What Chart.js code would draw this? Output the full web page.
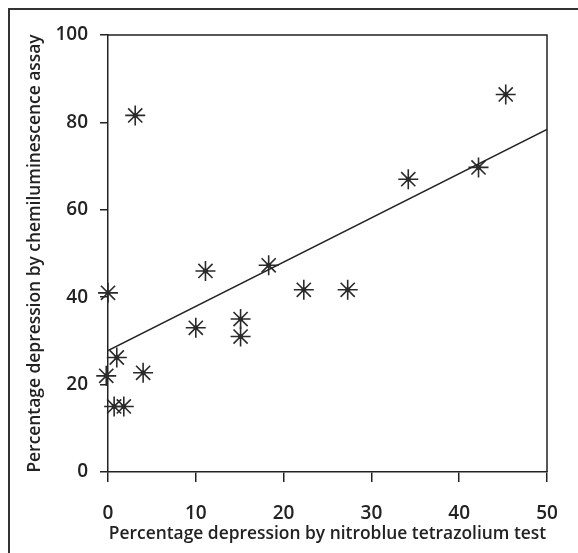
<!DOCTYPE html>
<html lang="en">
<head>
  <meta charset="UTF-8">
  <title>Chemiluminescence vs nitroblue tetrazolium</title>
  <script src="https://cdn.jsdelivr.net/npm/chart.js"></script>
  <style>
    html, body { margin: 0; padding: 0; background: #fff; }
    .wrap {
      position: relative;
      width: 578px;
      height: 553px;
      overflow: hidden;
    }
    .frame {
      position: absolute;
      left: 8px;
      top: 8px;
      width: 600px;
      height: 600px;
      border-left: 2px solid #333;
      border-top: 2px solid #333;
    }
    canvas { position: absolute; left: 0; top: 0; }
  </style>
</head>
<body>
  <div class="wrap">
    <div class="frame"></div>
    <canvas id="chart" width="578" height="553"></canvas>
  </div>

  <script>
    // values
    const nbtDepression = [0, -0.2, 1, 0.7, 1.8, 4, 3.1, 10, 11.1, 15.1, 15.1, 18.3, 22.3, 27.3, 34.2, 42.2, 45.3];
    const clDepression  = [41, 22, 26.2, 15, 15, 22.7, 81.6, 33, 46, 35, 31, 47.3, 41.7, 41.7, 67, 69.7, 86.4];
    const fitX = [0, 50];
    const fitY = [27.8, 78.4];

    const xTicks = [0, 10, 20, 30, 40, 50];
    const yTicks = [0, 20, 40, 60, 80, 100];

    const ink = '#222';
    const fontFamily = "'Open Sans', 'DejaVu Sans', sans-serif";

    const points = nbtDepression.map((x, i) => ({ x: x, y: clDepression[i] }));
    const fitLine = fitX.map((x, i) => ({ x: x, y: fitY[i] }));

    // box round the plot area (top and right sides)
    const plotBox = {
      id: 'plotBox',
      beforeDatasetsDraw(chart) {
        const { ctx, chartArea: a } = chart;
        ctx.save();
        ctx.strokeStyle = ink;
        ctx.lineWidth = 1.5;
        ctx.beginPath();
        ctx.moveTo(a.left, a.top);
        ctx.lineTo(a.right, a.top);
        ctx.lineTo(a.right, a.bottom);
        ctx.stroke();
        ctx.restore();
      }
    };

    new Chart(document.getElementById('chart'), {
      type: 'scatter',
      data: {
        datasets: [
          {
            type: 'line',
            data: fitLine,
            borderColor: ink,
            borderWidth: 1.5,
            pointRadius: 0,
            fill: false
          },
          {
            data: points,
            pointStyle: 'star',
            pointRadius: 10,
            borderColor: '#2a2a2a',
            backgroundColor: '#2a2a2a',
            pointBorderWidth: 1.6,
            clip: false
          },
          {
            data: points,
            pointStyle: 'circle',
            pointRadius: 2.5,
            pointBorderWidth: 0,
            backgroundColor: '#3a3a3a',
            clip: false
          }
        ]
      },
      options: {
        responsive: false,
        animation: false,
        layout: { padding: { top: 35, right: 31, left: 0, bottom: 0 } },
        plugins: {
          legend: { display: false },
          tooltip: { enabled: false }
        },
        scales: {
          x: {
            type: 'linear',
            min: 0,
            max: 50,
            afterFit(scale) { scale.height = 81; },
            afterBuildTicks(scale) { scale.ticks = xTicks.map(v => ({ value: v })); },
            grid: { drawOnChartArea: false, drawTicks: true, tickLength: 10, color: ink, lineWidth: 1.5 },
            border: { display: true, color: ink, width: 1.5 },
            ticks: { color: ink, padding: 20, font: { family: fontFamily, size: 19, weight: '600' } },
            title: {
              display: true,
              text: 'Percentage depression by nitroblue tetrazolium test',
              color: ink,
              padding: { top: 0, bottom: 9 },
              font: { family: fontFamily, size: 17.4, weight: '600' }
            }
          },
          y: {
            type: 'linear',
            min: 0,
            max: 100,
            afterFit(scale) { scale.width = 108; },
            afterBuildTicks(scale) { scale.ticks = yTicks.map(v => ({ value: v })); },
            grid: { drawOnChartArea: false, drawTicks: true, tickLength: 8, color: ink, lineWidth: 1.5 },
            border: { display: true, color: ink, width: 1.5 },
            ticks: { color: ink, padding: 12, font: { family: fontFamily, size: 19, weight: '600' } },
            title: {
              display: true,
              text: 'Percentage depression by chemiluminescence assay',
              color: ink,
              padding: { top: 25, bottom: 0 },
              font: { family: fontFamily, size: 17.4, weight: '600' }
            }
          }
        }
      },
      plugins: [plotBox]
    });
  </script>
</body>
</html>
